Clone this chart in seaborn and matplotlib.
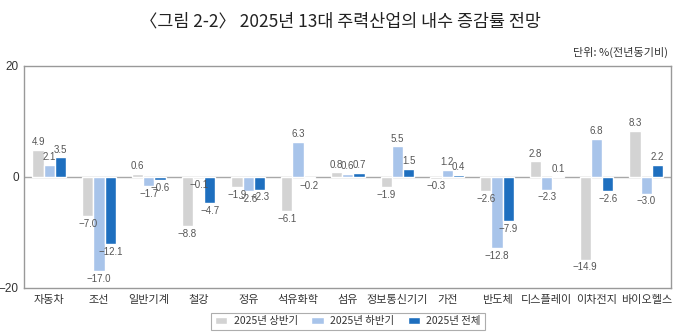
import matplotlib
matplotlib.use("Agg")
import matplotlib.pyplot as plt
import seaborn as sns
import pandas as pd
import numpy as np

categories = ["자동차", "조선", "일반기계", "철강", "정유", "석유화학", "섬유",
              "정보통신기기", "가전", "반도체", "디스플레이", "이차전지", "바이오헬스"]
h1 = [4.9, -7.0, 0.6, -8.8, -1.9, -6.1, 0.8, -1.9, -0.3, -2.6, 2.8, -14.9, 8.3]
h2 = [2.1, -17.0, -1.7, -0.1, -2.6, 6.3, 0.6, 5.5, 1.2, -12.8, -2.3, 6.8, -3.0]
full = [3.5, -12.1, -0.6, -4.7, -2.3, -0.2, 0.7, 1.5, 0.4, -7.9, 0.1, -2.6, 2.2]
series = ["2025년 상반기", "2025년 하반기", "2025년 전체"]
colors = ["#d3d3d3", "#a8c4ea", "#1e6fbf"]

df = pd.DataFrame({
    "산업": categories * 3,
    "구분": [series[0]] * 13 + [series[1]] * 13 + [series[2]] * 13,
    "값": h1 + h2 + full,
})

sns.set_theme(style="white")
plt.rcParams["font.family"] = ["Noto Sans CJK KR", "DejaVu Sans"]
plt.rcParams["axes.unicode_minus"] = False
numfont = ["Liberation Sans", "DejaVu Sans"]

fig = plt.figure(figsize=(6.8, 3.36), dpi=100)
ax = fig.add_axes([0.036, 0.143, 0.951, 0.661])

sns.barplot(data=df, x="산업", y="값", hue="구분", palette=colors,
            width=0.68, ax=ax, legend=True, saturation=1, zorder=2)

for cont in ax.containers:
    labels = [f"{v:.1f}".replace("-", "−") for v in cont.datavalues]
    ax.bar_label(cont, labels=labels, padding=2, fontsize=7, color="#555555",
                 family=numfont)

ax.set_ylim(-20, 20)
ax.set_yticks([-20, 0, 20])
ax.set_yticklabels(["−20", "0", "20"], family=numfont)
ax.set_xlim(-0.5, 12.5)
ax.axhline(0, color="#a8a8a8", lw=1, zorder=1)
ax.set_xlabel("")
ax.set_ylabel("")
ax.tick_params(axis="x", length=0, labelsize=8, colors="#333333", pad=5)
ax.tick_params(axis="y", length=0, labelsize=8.5, colors="#333333", pad=4)
for s in ax.spines.values():
    s.set_color("#999999")
    s.set_linewidth(1)

leg = ax.legend(loc="center", bbox_to_anchor=(0.5, -0.15), ncol=3,
                frameon=True, fancybox=False, fontsize=7.5, handlelength=1.2,
                handleheight=0.6, columnspacing=1.3, handletextpad=0.6,
                borderpad=0.35)
leg.get_frame().set_edgecolor("#999999")
leg.get_frame().set_linewidth(0.8)
for t in leg.get_texts():
    t.set_color("#333333")

fig.text(0.5, 0.935, "〈그림 2-2〉 2025년 13대 주력산업의 내수 증감률 전망",
         ha="center", va="center", fontsize=12.5, color="#222222")
fig.text(0.983, 0.845, "단위: %(전년동기비)", ha="right", va="center",
         fontsize=8, color="#333333")

fig.savefig("out.png", dpi=100)
